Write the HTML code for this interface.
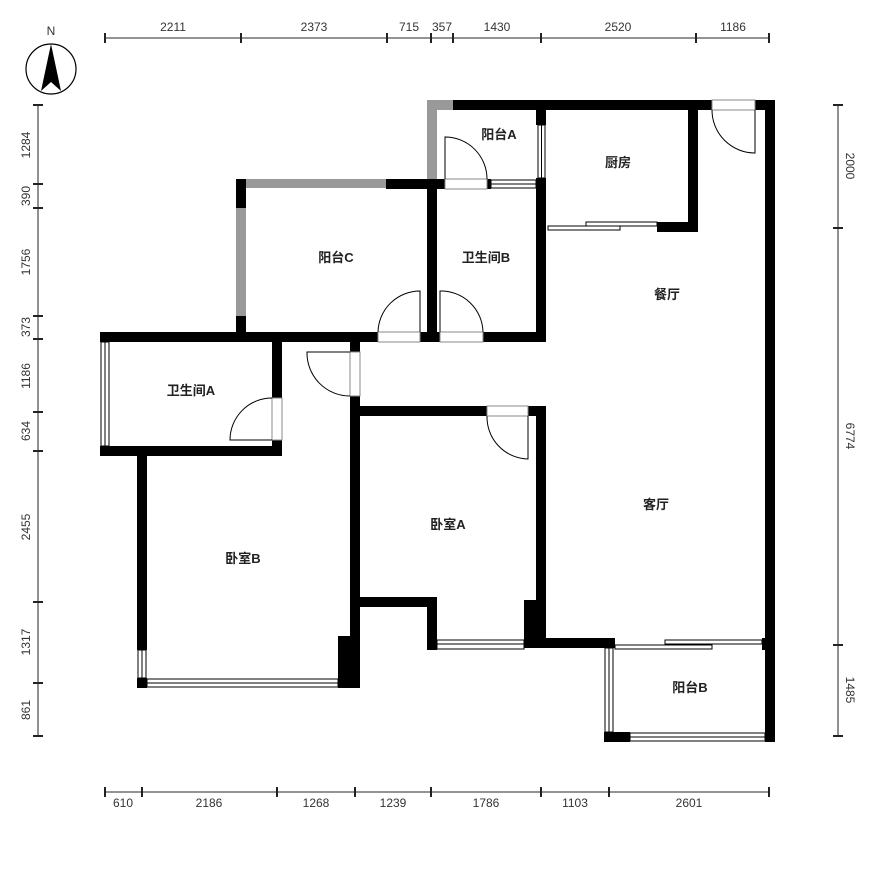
<!DOCTYPE html>
<html><head><meta charset="utf-8"><style>
html,body{margin:0;padding:0;background:#fff;}
svg{display:block}
.t{font-family:"Liberation Sans",sans-serif;font-size:12px;fill:#333}
.r{font-family:"Liberation Sans","Noto Sans CJK SC",sans-serif;font-size:13px;font-weight:bold;fill:#222}
</style></head><body>
<svg width="874" height="891" viewBox="0 0 874 891" xmlns="http://www.w3.org/2000/svg">
<!-- compass -->
<circle cx="51" cy="69" r="25" fill="none" stroke="#000" stroke-width="1.2"/>
<polygon points="51,44 41,91 51,82 61,91" fill="#000"/>
<text class="t" x="51" y="35" text-anchor="middle" font-size="13">N</text>

<g stroke="#555" stroke-width="1.3" fill="none">
<line x1="105" y1="38" x2="769" y2="38"/>
<line x1="105" y1="792" x2="769" y2="792"/>
<line x1="38" y1="105" x2="38" y2="736"/>
<line x1="838" y1="105" x2="838" y2="736"/>
</g>
<g stroke="#222" stroke-width="2">
<path d="M105 33v10M241 33v10M387 33v10M431 33v10M453 33v10M541 33v10M696 33v10M769 33v10"/>
<path d="M105 787v10M142 787v10M277 787v10M355 787v10M431 787v10M541 787v10M609 787v10M769 787v10"/>
<path d="M33 105h10M33 184h10M33 208h10M33 316h10M33 339h10M33 412h10M33 451h10M33 602h10M33 683h10M33 736h10"/>
<path d="M833 105h10M833 228h10M833 645h10M833 736h10"/>
</g>
<g class="t" text-anchor="middle">
<text x="173" y="31">2211</text><text x="314" y="31">2373</text><text x="409" y="31">715</text><text x="442" y="31">357</text><text x="497" y="31">1430</text><text x="618" y="31">2520</text><text x="733" y="31">1186</text>
<text x="123" y="807">610</text><text x="209" y="807">2186</text><text x="316" y="807">1268</text><text x="393" y="807">1239</text><text x="486" y="807">1786</text><text x="575" y="807">1103</text><text x="689" y="807">2601</text>
<text transform="translate(30,145) rotate(-90)">1284</text>
<text transform="translate(30,196) rotate(-90)">390</text>
<text transform="translate(30,262) rotate(-90)">1756</text>
<text transform="translate(30,327) rotate(-90)">373</text>
<text transform="translate(30,376) rotate(-90)">1186</text>
<text transform="translate(30,431) rotate(-90)">634</text>
<text transform="translate(30,527) rotate(-90)">2455</text>
<text transform="translate(30,642) rotate(-90)">1317</text>
<text transform="translate(30,710) rotate(-90)">861</text>
<text transform="translate(846,166) rotate(90)">2000</text>
<text transform="translate(846,436) rotate(90)">6774</text>
<text transform="translate(846,690) rotate(90)">1485</text>
</g>

<!-- gray walls -->
<g fill="#999">
<rect x="427" y="100" width="26" height="10"/>
<rect x="427" y="100" width="10" height="84"/>
<rect x="236" y="179" width="150" height="9"/>
<rect x="236" y="208" width="10" height="108"/>
</g>
<!-- black walls -->
<g fill="#000">
<rect x="453" y="100" width="259" height="10"/>
<rect x="755" y="100" width="20" height="10"/>
<rect x="765" y="100" width="10" height="642"/>
<rect x="536" y="100" width="10" height="25"/>
<rect x="536" y="178" width="10" height="164"/>
<rect x="688" y="100" width="10" height="132"/>
<rect x="657" y="222" width="41" height="10"/>
<rect x="386" y="179" width="51" height="10"/>
<rect x="427" y="184" width="10" height="158"/>
<rect x="427" y="179" width="18" height="10"/>
<rect x="487" y="179" width="4" height="10"/>
<rect x="236" y="179" width="10" height="29"/>
<rect x="236" y="316" width="10" height="26"/>
<rect x="100" y="332" width="278" height="10"/>
<rect x="420" y="332" width="20" height="10"/>
<rect x="483" y="332" width="63" height="10"/>
<rect x="100" y="446" width="182" height="10"/>
<rect x="272" y="342" width="10" height="56"/>
<rect x="272" y="440" width="10" height="16"/>
<rect x="137" y="456" width="10" height="194"/>
<rect x="137" y="678" width="10" height="10"/>
<rect x="338" y="636" width="22" height="52"/>
<rect x="350" y="342" width="10" height="10"/>
<rect x="350" y="396" width="10" height="292"/>
<rect x="360" y="406" width="127" height="10"/>
<rect x="528" y="406" width="18" height="10"/>
<rect x="536" y="406" width="10" height="242"/>
<rect x="360" y="597" width="77" height="10"/>
<rect x="427" y="597" width="10" height="53"/>
<rect x="524" y="600" width="22" height="48"/>
<rect x="524" y="638" width="91" height="10"/>
<rect x="604" y="732" width="26" height="10"/>
<rect x="762" y="638" width="13" height="12"/>
</g>
<!-- windows -->
<g fill="#fff" stroke="#000" stroke-width="1">
<rect x="538" y="125" width="7" height="53"/><line x1="541.5" y1="125" x2="541.5" y2="178"/>
<rect x="491" y="180" width="45" height="8"/><line x1="491" y1="184" x2="536" y2="184"/>
<rect x="101" y="342" width="8" height="104"/><line x1="105" y1="342" x2="105" y2="446"/>
<rect x="138" y="650" width="8" height="28"/><line x1="142" y1="650" x2="142" y2="678"/>
<rect x="147" y="679" width="191" height="8"/><line x1="147" y1="683" x2="338" y2="683"/>
<rect x="437" y="640" width="87" height="9"/><line x1="437" y1="644" x2="524" y2="644"/>
<rect x="605" y="648" width="8" height="84"/><line x1="609" y1="648" x2="609" y2="732"/>
<rect x="630" y="733" width="135" height="8"/><line x1="630" y1="737" x2="765" y2="737"/>
<rect x="586" y="222" width="71" height="4"/>
<rect x="548" y="226" width="72" height="4"/>
<rect x="665" y="640" width="97" height="4"/>
<rect x="615" y="645" width="97" height="4"/>
</g>
<!-- doors -->
<g fill="none" stroke="#000" stroke-width="1">
<rect x="712" y="100" width="43" height="10" stroke="#888"/>
<path d="M712 110 A43 43 0 0 0 755 153 V110"/>
<rect x="445" y="179" width="42" height="10" stroke="#888"/>
<path d="M445 179 V137 A42 42 0 0 1 487 179"/>
<rect x="378" y="332" width="42" height="10" stroke="#888"/>
<path d="M420 332 V291 A42 42 0 0 0 378 332"/>
<rect x="440" y="332" width="43" height="10" stroke="#888"/>
<path d="M440 332 V291 A42 42 0 0 1 483 332"/>
<rect x="350" y="352" width="10" height="44" stroke="#888"/>
<path d="M350 352 H307 A43 43 0 0 0 350 396"/>
<rect x="272" y="398" width="10" height="42" stroke="#888"/>
<path d="M272 398 A42 42 0 0 0 230 440 H272"/>
<rect x="487" y="406" width="41" height="10" stroke="#888"/>
<path d="M487 416 A42 42 0 0 0 528 459 V416"/>
</g>
<!-- labels -->
<g class="r" text-anchor="middle">
<text x="499" y="139">阳台A</text>
<text x="618" y="167">厨房</text>
<text x="336" y="262">阳台C</text>
<text x="486" y="262">卫生间B</text>
<text x="667" y="299">餐厅</text>
<text x="191" y="395">卫生间A</text>
<text x="656" y="509">客厅</text>
<text x="448" y="529">卧室A</text>
<text x="243" y="563">卧室B</text>
<text x="690" y="692">阳台B</text>
</g>
</svg>
</body></html>
